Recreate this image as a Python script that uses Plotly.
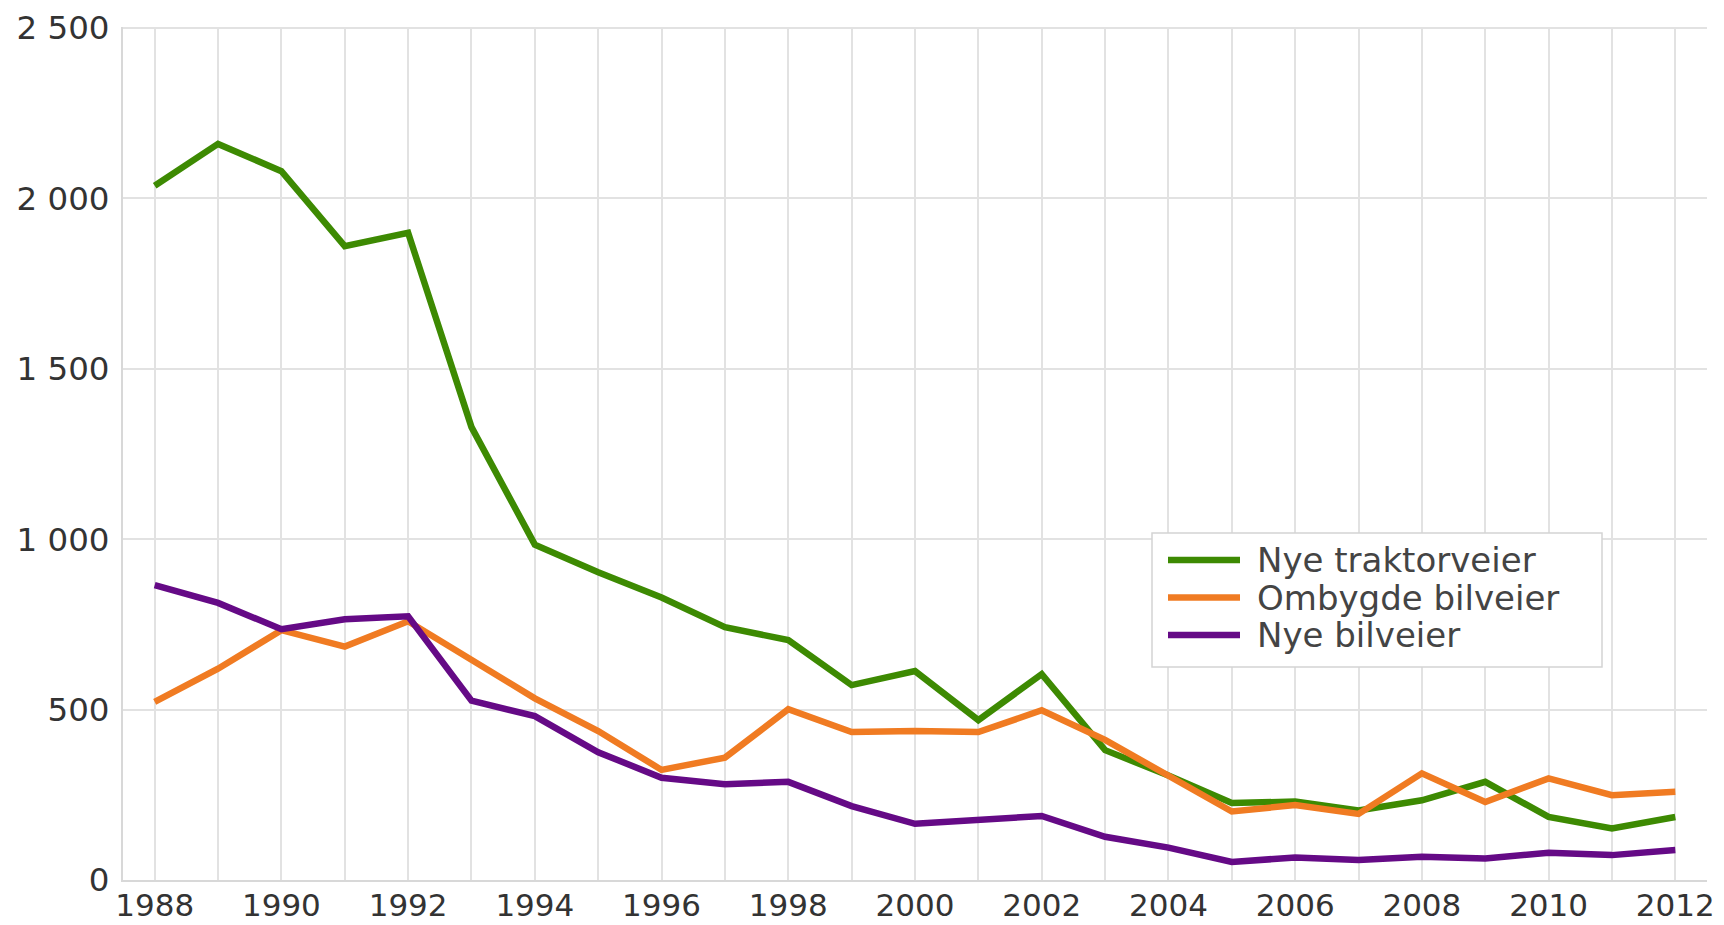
import plotly.graph_objects as go

years = list(range(1988, 2013))
nye_traktorveier = [2037, 2160, 2080, 1860, 1899, 1329, 984, 903, 829, 742, 704, 572, 613, 469, 604,
                    381, 307, 226, 230, 204, 234, 288, 185, 151, 185]
ombygde_bilveier = [523, 620, 733, 685, 759, 646, 533, 437, 323, 359, 501, 434, 437, 434, 498,
                    411, 307, 201, 220, 194, 313, 229, 298, 249, 259]
nye_bilveier = [865, 813, 736, 765, 774, 526, 481, 375, 300, 281, 288, 217, 165, 175, 188,
                127, 95, 53, 66, 59, 68, 63, 80, 73, 88]

series_names = ["Nye traktorveier", "Ombygde bilveier", "Nye bilveier"]
series_colors = ["#3d8a02", "#f07b22", "#650a86"]
series_values = [nye_traktorveier, ombygde_bilveier, nye_bilveier]

W, H = 1724, 925
L, R, T, B = 123, 17, 27, 45
PW, PH = W - L - R, H - T - B

def px(x):
    return (x - L) / PW

def py(y):
    return (H - B - y) / PH

fig = go.Figure()
for name, color, vals in zip(series_names, series_colors, series_values):
    fig.add_trace(go.Scatter(x=years, y=vals, mode="lines", name=name,
                             line=dict(color=color, width=6.5), showlegend=False))

grid = "#e2e2e2"
font_family = "DejaVu Sans"

# custom legend (box, swatches, labels)
shapes = [dict(type="rect", xref="paper", yref="paper",
               x0=px(1152), x1=px(1602), y0=py(667), y1=py(533),
               line=dict(color="#d4d4d4", width=1.5), fillcolor="white", layer="above")]
annotations = []
for i, (name, color) in enumerate(zip(series_names, series_colors)):
    yc = 560 + i * 37.5
    shapes.append(dict(type="line", xref="paper", yref="paper",
                       x0=px(1168), x1=px(1240), y0=py(yc), y1=py(yc),
                       line=dict(color=color, width=6.5), layer="above"))
    annotations.append(dict(xref="paper", yref="paper", x=px(1255), y=py(yc),
                            text=name, showarrow=False, xanchor="left", yanchor="middle",
                            font=dict(family=font_family, size=34, color="#444444")))

fig.update_layout(
    width=W, height=H,
    margin=dict(l=L, r=R, t=T, b=B, autoexpand=False),
    plot_bgcolor="white", paper_bgcolor="white",
    separators=", ",
    font=dict(family=font_family, size=32, color="#333333"),
    shapes=shapes, annotations=annotations,
    xaxis=dict(range=[1987.5, 2012.5], tick0=1988, dtick=2, showgrid=True,
               gridcolor=grid, gridwidth=2, automargin=False,
               minor=dict(dtick=1, tick0=1988, showgrid=True, gridcolor=grid, gridwidth=2),
               showline=True, linecolor="#d8d8d8", linewidth=2, zeroline=False,
               ticks="", ticklabelstandoff=-3,
               tickfont=dict(family=font_family, size=31, color="#333333")),
    yaxis=dict(range=[0, 2503], tick0=0, dtick=500, showgrid=True,
               gridcolor=grid, gridwidth=2, separatethousands=True, tickformat=",d",
               automargin=False,
               showline=True, linecolor="#d8d8d8", linewidth=2, zeroline=False,
               ticks="", ticklabelstandoff=5,
               tickfont=dict(family=font_family, size=32.5, color="#333333")),
)

fig.write_html("out.html", config={"displayModeBar": False},
               post_script="document.body.style.margin='0';document.body.style.overflow='hidden';")
